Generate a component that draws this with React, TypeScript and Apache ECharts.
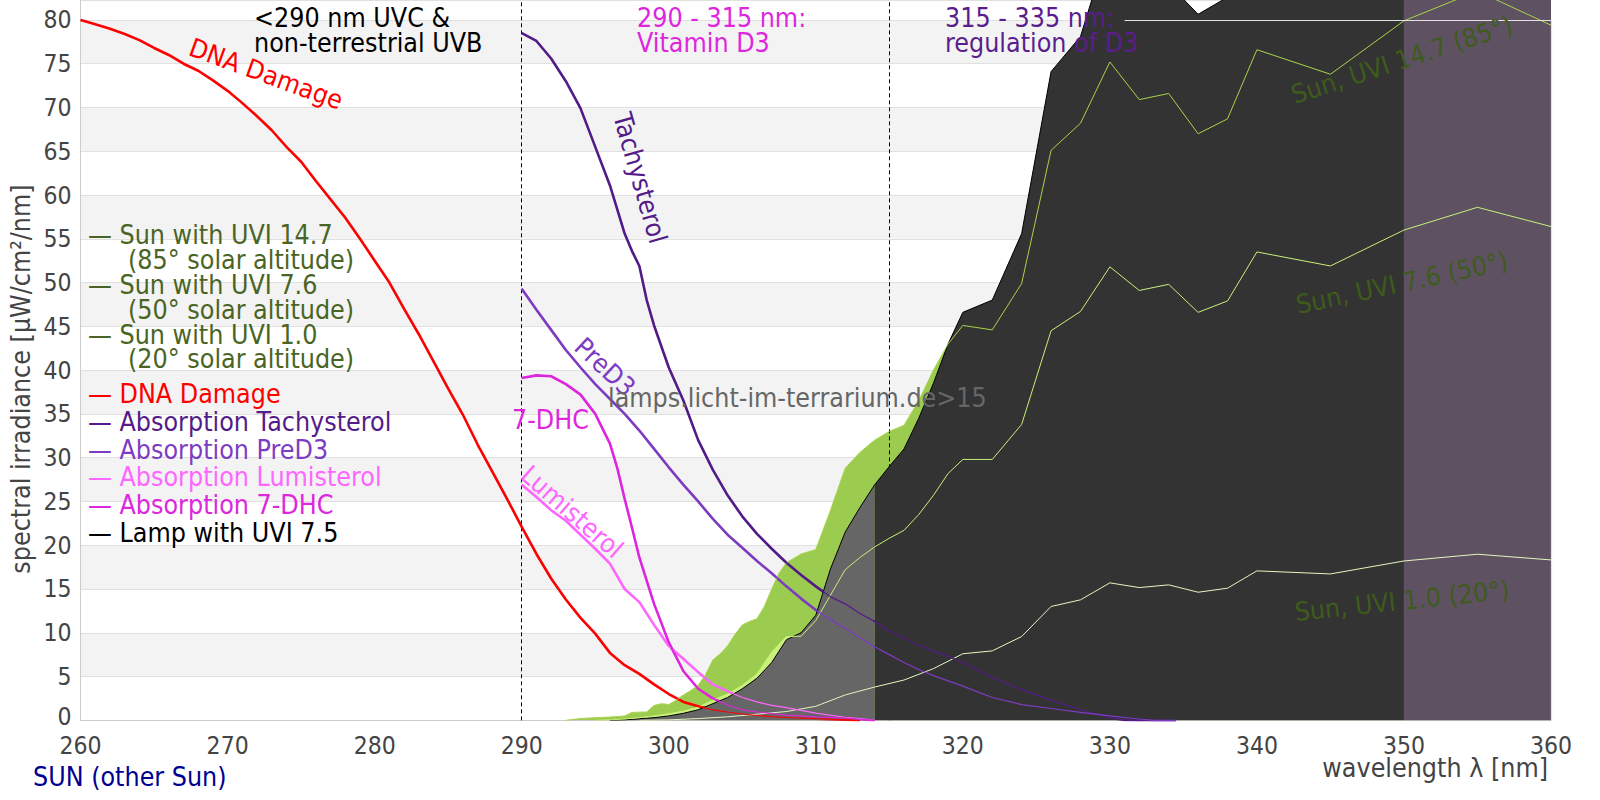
import React, { useEffect, useRef } from 'react';
import * as echarts from 'echarts';

type Pt = [number, number];

// ---- axes ----
const X_MIN = 260;
const X_MAX = 360;
const X_STEP = 10;
const Y_MIN = 0;
const Y_STEP = 5;
const Y_LABEL_MAX = 80;
const Y_TOP = 82.28;

// ---- data: [wavelength nm, value] ----
const dnaDamage: Pt[] = [
  [260, 80.0], [261, 79.5], [262, 79.0], [263, 78.4], [264, 77.7], [265, 76.8], [266, 76.0], [267, 75.0],
  [268, 74.2], [269, 73.1], [270, 71.9], [271, 70.5], [272, 69.0], [273, 67.4], [274, 65.5], [275, 63.8],
  [276, 61.6], [277, 59.5], [278, 57.4], [279, 55.0], [280, 52.5], [281, 50.0], [282, 47.0], [283, 44.1],
  [284, 41.0], [285, 37.9], [286, 34.9], [287, 31.5], [288, 28.4], [289, 25.3], [290, 22.1], [291, 19.0],
  [292, 16.2], [293, 13.8], [294, 11.7], [295, 9.9], [296, 7.7], [297, 6.3], [298, 5.3], [299, 4.1],
  [300, 3.0], [301, 2.1], [302, 1.6], [303, 1.2], [304, 0.95], [305, 0.72], [306, 0.55], [307, 0.42],
  [308, 0.32], [309, 0.25], [310, 0.18], [312, 0.08], [313, 0],
];

const tachysterol: Pt[] = [
  [290, 78.5], [291, 77.6], [292, 75.6], [293, 73.0], [294, 69.9], [295, 65.5], [296, 61.1], [297, 55.6],
  [297.5, 53.6], [298, 51.9], [298.5, 48.0], [299, 45.1], [300, 40.3], [301, 36.5], [302, 32.0], [303, 28.6],
  [304, 25.7], [305, 23.3], [306, 21.3], [307, 19.6], [308, 18.0], [309, 16.6], [310, 15.3], [311, 14.1],
  [312, 13.3], [313, 12.2], [314, 11.3], [315, 10.2], [316, 9.4], [317, 8.6], [318, 7.9], [319, 7.3],
  [320, 6.6], [322, 4.9], [324, 3.5], [326, 2.3], [328, 1.2], [330, 0.3], [331, 0.05], [332, 0], [334.5, 0],
];

const preD3: Pt[] = [
  [290, 49.3], [291, 46.9], [292, 44.6], [293, 42.3], [294, 40.3], [295, 38.4], [296, 36.7], [297, 35.0],
  [298, 33.1], [299, 31.0], [300, 28.9], [301, 26.9], [302, 25.0], [303, 23.0], [304, 21.2], [305, 19.7],
  [306, 18.2], [307, 16.8], [308, 15.3], [309, 13.9], [310, 12.6], [311, 11.5], [312, 10.5], [313, 9.4],
  [314, 8.4], [315, 7.5], [316, 6.6], [317, 5.8], [318, 5.1], [319, 4.5], [320, 3.9], [322, 2.6],
  [324, 1.8], [326, 1.35], [328, 0.9], [330, 0.5], [332, 0.15], [333, 0], [334.5, 0],
];

const lumisterol: Pt[] = [
  [290, 26.9], [291, 25.5], [292, 24.0], [293, 22.8], [294, 21.2], [295, 19.6], [296, 17.9], [297, 15.0],
  [298, 13.5], [299, 10.9], [300, 8.5], [301, 7.0], [302, 5.5], [303, 4.1], [304, 3.3], [305, 2.6],
  [306, 2.1], [307, 1.7], [308, 1.45], [310, 0.82], [312, 0.35], [313, 0.2], [314, 0],
];

const dhc7: Pt[] = [
  [290, 39.1], [291, 39.4], [292, 39.3], [293, 38.4], [294, 37.2], [295, 35.0], [296, 31.6], [296.5, 28.8],
  [297, 25.3], [297.5, 22.0], [298, 18.6], [299, 13.3], [300, 8.9], [301, 5.6], [302, 3.6], [303, 2.5],
  [304, 1.75], [305, 1.2], [306, 0.95], [308, 0.6], [310, 0.4], [312, 0.25], [314, 0],
];

const sunUvi147: Pt[] = [
  [293, 0], [294, 0.2], [295, 0.3], [296, 0.37], [297, 0.5], [297.5, 0.9], [298, 0.93], [298.5, 0.95],
  [299, 1.7], [299.5, 1.9], [300, 1.8], [300.5, 2.3], [301, 2.9], [301.5, 3.4], [302, 4.0], [302.5, 5.2],
  [303, 6.9], [303.5, 7.6], [304, 8.5], [304.5, 9.8], [305, 10.9], [305.5, 11.3], [306, 11.6], [306.5, 13.0],
  [307, 15.0], [307.5, 16.8], [308, 18.0], [309, 19.0], [310, 19.5], [311, 24.0], [312, 28.8], [313, 30.6],
  [314, 32.0], [315, 33.0], [316, 33.7], [317, 36.5], [318, 40.0], [319, 43.0], [320, 45.1], [322, 44.6],
  [324, 49.9], [326, 65.1], [328, 68.2], [330, 75.2], [332, 70.9], [334, 71.6], [336, 67.0], [338, 68.7],
  [340, 76.6], [345, 73.8], [350, 79.9], [355, 83.3], [360, 79.4],
];

const sunUvi76: Pt[] = [
  [295, 0], [296, 0.05], [297, 0.15], [298, 0.3], [299, 0.5], [300, 0.75], [301, 1.05], [302, 1.5],
  [303, 2.3], [304, 3.0], [305, 4.0], [306, 5.3], [307, 7.8], [308, 9.57], [309, 9.6], [310, 11.4],
  [311, 14.3], [312, 17.2], [313, 18.6], [314, 19.8], [315, 20.8], [316, 21.7], [317, 23.5], [318, 25.7],
  [319, 28.2], [320, 29.8], [322, 29.8], [324, 33.8], [326, 44.5], [328, 46.7], [330, 51.8], [332, 49.1],
  [334, 49.8], [336, 46.6], [338, 47.9], [340, 53.5], [345, 51.9], [350, 56.0], [355, 58.6], [360, 56.4],
];

const sunUvi10: Pt[] = [
  [298, 0], [300, 0.05], [302, 0.2], [304, 0.4], [306, 0.7], [308, 1.0], [310, 1.6], [312, 2.9],
  [314, 3.8], [316, 4.6], [318, 5.9], [320, 7.6], [322, 7.93], [324, 9.57], [326, 13.0], [328, 13.76],
  [330, 15.7], [332, 15.16], [334, 15.47], [336, 14.63], [338, 15.09], [340, 17.07], [345, 16.72],
  [350, 18.2], [355, 18.97], [360, 18.32],
];

const lampUvi75: Pt[] = [
  [296, 0], [297, 0.05], [298, 0.18], [299, 0.3], [300, 0.5], [301, 0.8], [302, 1.2], [303, 1.9],
  [304, 2.6], [305, 3.6], [306, 4.8], [307, 6.6], [308, 9.2], [309, 10.0], [310, 12.0], [311, 17.3],
  [312, 21.5], [313, 24.3], [314, 26.9], [315, 29.0], [316, 31.0], [317, 34.5], [318, 38.5], [319, 43.0],
  [320, 46.6], [322, 48.0], [324, 55.6], [326, 74.1], [328, 78.1], [330, 89.0], [332, 92.0], [334, 84.1],
  [336, 80.65], [338, 82.6], [340, 95.0], [345, 104.0], [350, 112.0], [355, 118.0], [360, 114.0],
];

// wavelength bands used to colour the lamp spectrum
const lampBands = [
  { from: 260, to: 314, color: '#666666' },
  { from: 314, to: 350, color: '#333333' },
  { from: 350, to: 360, color: '#5e5262' },
];

const regionLines = [290, 315];

// ---- colours ----
const C = {
  dna: '#ff0000',
  tach: '#531c88',
  pre: '#7d3cc2',
  lumi: '#ff66ff',
  dhc: '#dd26dd',
  sun147Fill: '#9bcb4f',
  sun76Fill: '#c8f07c',
  sun147Line: '#a9d44a',
  sun76Line: '#c8f07a',
  sun10Line: '#e4f5bf',
  sunText: '#4a6424',
  sunLabel: '#3e5b1c',
  axis: '#444444',
};

const FONT = 'DejaVu Sans';
const AXIS_FONT = "'DejaVu Sans Condensed', 'DejaVu Sans', sans-serif";
const TICK_SIZE = 24.5;

function txt(
  text: string,
  x: number,
  y: number,
  fill: string,
  o: { rot?: number; align?: string; va?: string; size?: number; lh?: number } = {}
) {
  const align = o.align || 'left';
  const va = o.va || 'middle';
  return {
    type: 'text',
    x,
    y,
    rotation: ((o.rot || 0) * Math.PI) / 180,
    scaleX: 0.92,
    z: 100,
    silent: true,
    style: {
      text,
      fill,
      fontSize: o.size || 26,
      fontFamily: FONT,
      align,
      textAlign: align,
      verticalAlign: va,
      textVerticalAlign: va,
      lineHeight: o.lh || 25,
    },
  };
}

function area(data: Pt[], color: string, z: number) {
  return {
    type: 'line',
    data,
    z,
    symbol: 'none',
    showSymbol: false,
    silent: true,
    lineStyle: { width: 0, opacity: 0 },
    areaStyle: { color, opacity: 1 },
  };
}

function line(data: Pt[], color: string, width: number, z: number, extra: any = {}) {
  return {
    type: 'line',
    data,
    z,
    symbol: 'none',
    showSymbol: false,
    silent: true,
    lineStyle: { color, width },
    ...extra,
  };
}

export default function App() {
  const ref = useRef<HTMLDivElement>(null);

  useEffect(() => {
    if (!ref.current) return;
    const chart = echarts.init(ref.current, undefined, { renderer: 'svg' });

    const lampSeries = lampBands.map((b) => ({
      type: 'line',
      data: lampUvi75.filter((p) => p[0] >= b.from && p[0] <= b.to),
      z: 4,
      symbol: 'none',
      showSymbol: false,
      silent: true,
      lineStyle: { color: '#000000', width: 1 },
      areaStyle: { color: b.color, opacity: 1 },
    }));

    const curves: [Pt[], string][] = [
      [dnaDamage, C.dna],
      [tachysterol, C.tach],
      [preD3, C.pre],
      [lumisterol, C.lumi],
      [dhc7, C.dhc],
    ];

    // thick strokes sit beneath the lamp spectrum, thin strokes above it
    const thick = curves.map(([d, c], i) =>
      line(
        d,
        c,
        2.6,
        3,
        i === 0
          ? {
              markLine: {
                silent: true,
                z: 3,
                symbol: ['none', 'none'],
                label: { show: false },
                lineStyle: { color: '#000000', type: [4, 3], width: 1 },
                data: regionLines.map((x) => ({ xAxis: x })),
              },
            }
          : {}
      )
    );
    const thin = curves.map(([d, c], i) =>
      line(
        d,
        c,
        1.2,
        6,
        i === 0
          ? {
              markLine: {
                silent: true,
                z: 7,
                symbol: ['none', 'none'],
                label: { show: false },
                lineStyle: { color: '#e2e2e2', type: 'solid', width: 1.2 },
                data: [
                  [{ coord: [331, Y_LABEL_MAX] }, { coord: [X_MAX, Y_LABEL_MAX] }],
                  [{ coord: [X_MAX, Y_MIN] }, { coord: [X_MAX, Y_LABEL_MAX] }],
                ],
              },
            }
          : {}
      )
    );

    const graphic = [
      txt('<290 nm UVC &\nnon-terrestrial UVB', 254, 6, '#000000', { va: 'top' }),
      txt('290 - 315 nm:\nVitamin D3', 637, 6, C.dhc, { va: 'top' }),
      txt('315 - 335 nm:\nregulation of D3', 945, 6, '#5a1e8c', { va: 'top' }),
      txt('DNA Damage', 266, 74, C.dna, { rot: -20, align: 'center' }),
      txt('Tachysterol', 640, 178, C.tach, { rot: -74, align: 'center' }),
      txt('PreD3', 605, 367, C.pre, { rot: -43, align: 'center' }),
      txt('7-DHC', 512, 420, C.dhc),
      txt('Lumisterol', 572, 512, C.lumi, { rot: -41, align: 'center' }),
      txt('lamps.licht-im-terrarium.de>15', 608, 398, '#666666'),
      txt('Sun, UVI 14.7 (85°)', 1402, 60, C.sunLabel, { rot: 18, align: 'center' }),
      txt('Sun, UVI 7.6 (50°)', 1402, 283, C.sunLabel, { rot: 12, align: 'center' }),
      txt('Sun, UVI 1.0 (20°)', 1402, 601, C.sunLabel, { rot: 6, align: 'center' }),
      txt('— Sun with UVI 14.7', 88, 235, C.sunText),
      txt('(85° solar altitude)', 128, 260, C.sunText),
      txt('— Sun with UVI 7.6', 88, 285, C.sunText),
      txt('(50° solar altitude)', 128, 310, C.sunText),
      txt('— Sun with UVI 1.0', 88, 335, C.sunText),
      txt('(20° solar altitude)', 128, 359.5, C.sunText),
      txt('— DNA Damage', 88, 394, C.dna),
      txt('— Absorption Tachysterol', 88, 422, C.tach),
      txt('— Absorption PreD3', 88, 450, C.pre),
      txt('— Absorption Lumisterol', 88, 477.5, C.lumi),
      txt('— Absorption 7-DHC', 88, 505, C.dhc),
      txt('— Lamp with UVI 7.5', 88, 533, '#000000'),
      txt('SUN (other Sun)', 33, 777, '#000090'),
      txt('wavelength λ [nm]', 1548, 768, C.axis, { align: 'right' }),
      txt('spectral irradiance [µW/cm²/nm]', 21, 379, C.axis, { rot: 90, align: 'center' }),
    ];

    chart.setOption({
      animation: false,
      backgroundColor: '#ffffff',
      grid: { left: 80.6, right: 49, top: 0, bottom: 79.7, containLabel: false },
      xAxis: {
        type: 'value',
        min: X_MIN,
        max: X_MAX,
        interval: X_STEP,
        axisLine: { show: true, lineStyle: { color: '#cccccc', width: 1 } },
        axisTick: { show: false },
        splitLine: { show: false },
        axisLabel: {
          color: C.axis,
          fontSize: TICK_SIZE,
          lineHeight: 20,
          fontFamily: AXIS_FONT,
          margin: 15,
        },
      },
      yAxis: {
        type: 'value',
        min: Y_MIN,
        max: Y_TOP,
        interval: Y_STEP,
        axisLine: { show: true, lineStyle: { color: '#cccccc', width: 1 } },
        axisTick: { show: false },
        splitLine: { show: true, lineStyle: { color: '#e0e0e0', width: 1 } },
        splitArea: { show: true, areaStyle: { color: ['#ffffff', '#f3f3f3'] } },
        axisLabel: {
          color: C.axis,
          fontSize: TICK_SIZE,
          lineHeight: 20,
          fontFamily: AXIS_FONT,
          margin: 9,
          formatter: (v: number) => {
            if (!(Math.abs(v % Y_STEP) < 1e-6 && v <= Y_LABEL_MAX)) return '';
            return v === 0 ? '{z|0}' : String(v);
          },
          rich: {
            z: {
              color: C.axis,
              fontSize: TICK_SIZE,
              fontFamily: AXIS_FONT,
              lineHeight: 20,
              padding: [0, 0, 8, 0],
            },
          },
        },
      },
      series: [
        area(sunUvi147, C.sun147Fill, 2),
        area(sunUvi76, C.sun76Fill, 2),
        ...thick,
        ...lampSeries,
        line(sunUvi147, C.sun147Line, 1, 5),
        line(sunUvi76, C.sun76Line, 1, 5),
        line(sunUvi10, C.sun10Line, 1, 5),
        ...thin,
      ],
      graphic,
    });

    return () => {
      chart.dispose();
    };
  }, []);

  return (
    <div
      ref={ref}
      style={{ position: 'fixed', left: 0, top: 0, width: 1600, height: 800, background: '#fff' }}
    />
  );
}
